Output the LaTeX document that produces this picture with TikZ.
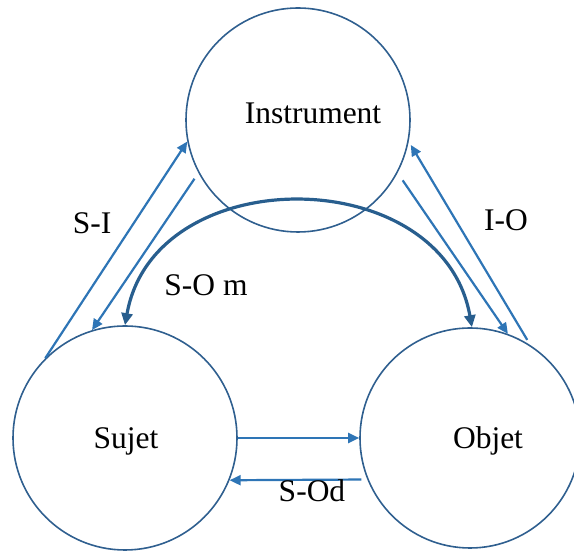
\documentclass[tikz,border=0pt]{standalone}
\usepackage{fontspec}
\setmainfont{Liberation Serif}
\usetikzlibrary{arrows.meta}
\definecolor{circblue}{HTML}{2F5F8F}
\definecolor{linkblue}{HTML}{2E75B6}
\definecolor{arcblue}{HTML}{285E8E}
\begin{document}
\begin{tikzpicture}[x=1pt,y=1pt,
  pole/.style={draw=circblue,line width=1.6pt,circle,minimum size=224pt,inner sep=0pt},
  txt/.style={anchor=base,font=\fontsize{31.5}{36}\selectfont},
  link/.style={draw=linkblue,line width=2.2pt,-{Triangle[length=11pt,width=10pt]}},
  mediated/.style={draw=arcblue,line width=3.2pt,{Triangle[length=12pt,width=11pt]}-{Triangle[length=12pt,width=11pt]}}]
  \useasboundingbox (0,0) rectangle (574,551);
  % Poles
  \node[pole] (instr) at (298,431) {};
  \node[pole] (sujet) at (125,113) {};
  \node[pole,minimum size=220pt] (objet) at (470,113) {};
  \node[txt] (tinstr) at (313,427) {Instrument};
  \node[txt] (tsujet) at (126,102) {Sujet};
  \node[txt] (tobjet) at (488,102) {Objet};
  % S-I
  \draw[link] (sujet.135) -- (instr.191);
  \draw[link,shorten <=7pt] (instr.208) -- (sujet.107);
  \node[txt] (lsi) at (92,317) {S-I};
  % I-O
  \draw[link,shorten <=6pt,shorten >=4pt] (objet.57) -- (instr.349);
  \draw[link,shorten <=9pt] (instr.332) -- (objet.70);
  \node[txt] (lio) at (506,320) {I-O};
  % S-O mediated
  \draw[mediated] (sujet.90) to[out=80,in=100,looseness=1.24] (objet.89);
  \node[txt] (lsom) at (206,255) {S-O m};
  % S-O direct
  \draw[link] (sujet.0) -- (objet.180);
  \draw[link,shorten <=6pt] (objet.202) -- (sujet.338);
  \node[txt] (lsod) at (312,49) {S-Od};
\end{tikzpicture}
\end{document}
